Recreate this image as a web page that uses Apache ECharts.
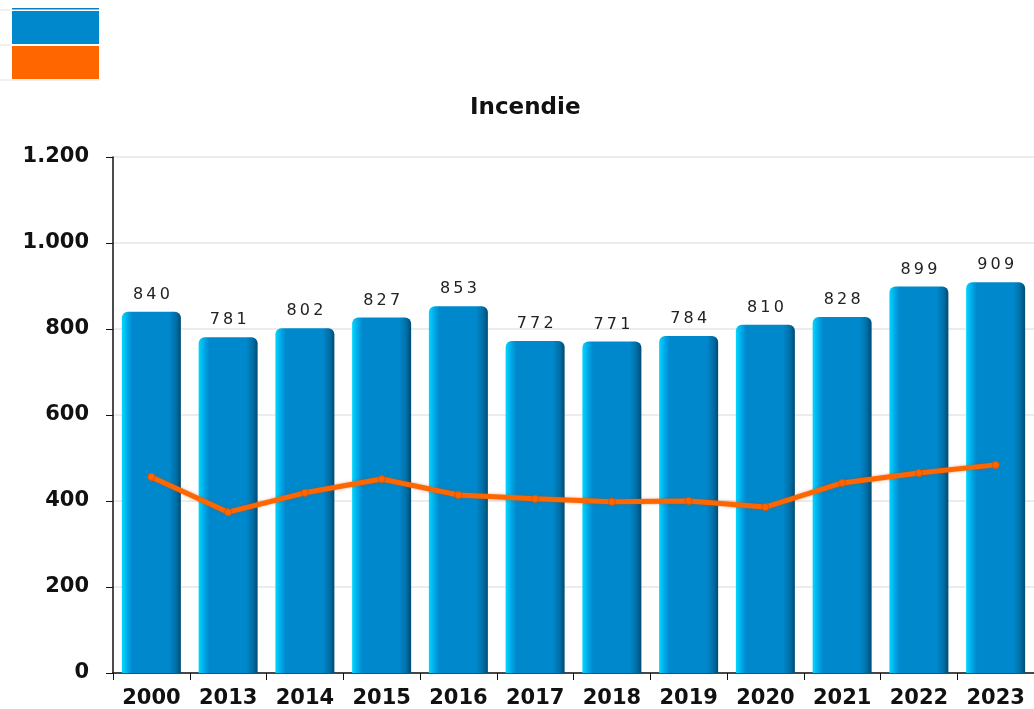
<!DOCTYPE html>
<html>
<head>
<meta charset="utf-8">
<script src="https://cdn.jsdelivr.net/npm/echarts@6/dist/echarts.min.js"></script>
<style>
  html, body { margin: 0; padding: 0; background: #fff; }
  #chart { width: 1034px; height: 709px; }
</style>
</head>
<body>
<div id="chart"></div>
<script>
const years = ['2000', '2013', '2014', '2015', '2016', '2017', '2018', '2019', '2020', '2021', '2022', '2023']
const incendie = [840, 781, 802, 827, 853, 772, 771, 784, 810, 828, 899, 909]
const moyenne = [456, 374, 419, 451, 414, 405, 398, 400, 386, 442, 465, 484]

const font = 'DejaVu Sans'
const chart = echarts.init(document.getElementById('chart'), null, { renderer: 'canvas' })

chart.setOption({
  animation: false,
  backgroundColor: '#fff',
  title: {
    text: 'Incendie',
    left: 470,
    top: 97,
    padding: 0,
    textStyle: { fontFamily: font, fontSize: 23, fontWeight: 'bold', color: '#111' },
  },
  legend: {
    left: 12,
    top: 11,
    padding: 0,
    orient: 'vertical',
    icon: 'rect',
    itemWidth: 87,
    itemHeight: 33,
    itemGap: 2,
    formatter: () => '',
    selectedMode: false,
    data: [
      { name: 'Incendie', itemStyle: { color: '#0088cc', borderWidth: 0 } },
      { name: 'Moyenne', itemStyle: { color: '#ff6600', borderWidth: 0 } },
    ],
  },
  graphic: [
    { type: 'rect', shape: { x: 12, y: 8, width: 87, height: 1.5 }, style: { fill: '#0a7fc4' } },
    { type: 'line', shape: { x1: 0, y1: 10, x2: 11, y2: 10 }, style: { stroke: '#e2e2e2', lineWidth: 1 } },
    { type: 'line', shape: { x1: 0, y1: 45, x2: 11, y2: 45 }, style: { stroke: '#e2e2e2', lineWidth: 1 } },
    { type: 'line', shape: { x1: 0, y1: 80, x2: 99, y2: 80 }, style: { stroke: '#e2e2e2', lineWidth: 1 } },
  ],
  grid: {
    left: 113,
    top: 157,
    width: 930,
    height: 516,
  },
  xAxis: {
    type: 'category',
    data: years,
    axisLine: { lineStyle: { color: '#111', width: 1.5 } },
    axisTick: { show: true, length: 7, lineStyle: { color: '#111' } },
    axisLabel: { margin: 15, fontFamily: font, fontSize: 21, fontWeight: 'bold', color: '#111' },
  },
  yAxis: {
    type: 'value',
    min: 0,
    max: 1200,
    interval: 200,
    axisLine: { show: true, lineStyle: { color: '#111', width: 1.5 } },
    axisTick: { show: true, length: 7, lineStyle: { color: '#111' } },
    axisLabel: {
      margin: 24,
      fontFamily: font,
      fontSize: 21,
      fontWeight: 'bold',
      color: '#111',
      formatter: (v) => v.toLocaleString('de-DE'),
    },
    splitLine: { lineStyle: { color: '#e6e6e6', width: 1.5 } },
  },
  series: [
    {
      name: 'Incendie',
      type: 'bar',
      data: incendie,
      barWidth: 59,
      itemStyle: {
        borderRadius: [6, 6, 0, 0],
        color: new echarts.graphic.LinearGradient(0, 0, 1, 0, [
          { offset: 0, color: '#00d8ff' },
          { offset: 0.1, color: '#00a6e6' },
          { offset: 0.18, color: '#0088cc' },
          { offset: 0.8, color: '#0088cc' },
          { offset: 0.92, color: '#006ea5' },
          { offset: 1, color: '#004a72' },
        ]),
      },
      label: {
        show: true,
        position: 'top',
        distance: 9,
        fontFamily: font,
        fontSize: 16,
        color: '#222',
        formatter: (p) => String(p.value).split('').join('\u2009'),
      },
    },
    {
      name: 'Moyenne',
      type: 'line',
      data: moyenne,
      symbol: 'circle',
      symbolSize: 7,
      color: '#ff6600',
      lineStyle: {
        width: 5,
        color: '#ff6600',
        shadowColor: 'rgba(200, 70, 0, 0.5)',
        shadowBlur: 3,
      },
      itemStyle: { color: '#ff6600', borderColor: '#e05500', borderWidth: 1 },
      z: 5,
    },
  ],
})
</script>
</body>
</html>
